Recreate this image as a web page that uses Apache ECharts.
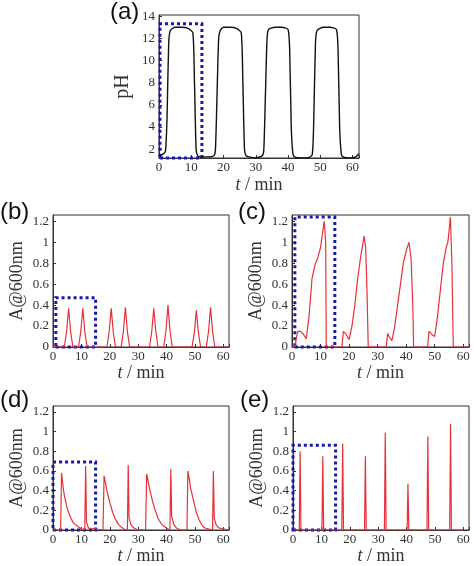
<!DOCTYPE html>
<html><head><meta charset="utf-8">
<script src="https://cdn.jsdelivr.net/npm/echarts@6/dist/echarts.min.js"></script>
<style>html,body{margin:0;padding:0;background:#fff}#c{width:474px;height:566px}</style>
</head><body><div id="c"></div>
<script>
const phT=[0,1,2,2.5,3,3.5,5,7,9,10.5,11,11.5,12,13,15,17,17.5,18,18.5,19,20,22,24,25.5,26,26.5,27,28,30,32,32.5,33,33.5,34,36,38,40,40.5,41,41.5,42,44,46,47.5,48,48.5,49,51,53,55,55.5,56,56.5,57,59,61,62];
const phV=[1.4,1.5,1.8,5,11.5,12.7,13,13,12.9,12.5,8,2,1.4,1.3,1.3,1.4,2,7,12,12.7,13,13,12.9,12.5,8,2,1.4,1.3,1.2,1.4,2,7,12,12.8,13,13,12.8,11,4,1.6,1.3,1.2,1.2,1.5,5,11.5,12.7,13,13,12.8,11,4,1.6,1.3,1.2,1.3,1.6];
const bT=[0,3,4,4.8,5.5,6.2,7,8,9,9.8,10.5,11.2,12,17,19,19.8,20.5,21.2,22,24,24.8,25.5,26.2,27,33,34,34.8,35.5,36.2,37,39,39.8,40.5,41.2,42,48,49,49.8,50.5,51.2,52,54,54.8,55.5,56.2,57,62];
const bV=[0,0,0,0.15,0.37,0.15,0,0,0,0.15,0.37,0.15,0,0,0,0.15,0.37,0.15,0,0,0.15,0.38,0.15,0,0,0,0.15,0.37,0.15,0,0,0.16,0.4,0.16,0,0,0,0.14,0.35,0.14,0,0,0.15,0.38,0.15,0,0];
const cT=[0,1,1.5,2,3,4,5,6,7,8,9,10,10.5,11.3,11.8,12,17.5,18,19,20,21,22,23,24,25.3,25.8,26.3,26.7,33,33.5,34,35,36,37,38,39,40,41,41.7,42.3,42.6,47.5,48,49,50,51,52,53,54,54.6,55.5,56,56.5,62];
const cV=[0,0,0.08,0.15,0.15,0.12,0.08,0.3,0.65,0.78,0.85,0.95,1.05,1.2,1.0,0,0,0.15,0.12,0.07,0.2,0.4,0.65,0.85,1.06,0.95,0.5,0,0,0.13,0.1,0.06,0.2,0.4,0.6,0.8,0.92,1.0,0.85,0.4,0,0,0.15,0.12,0.1,0.3,0.55,0.8,0.95,1.0,1.24,0.8,0,0];
const dT=[0,2.7,3,3.5,4,5,6,7,8,9,10,11.2,11.5,11.8,12.5,13,17.6,18,18.5,19,20,21,22,23,24,25,26.2,26.5,26.8,27.5,28.5,30,32.6,33,33.5,34,35,36,37,38,39,40,41.2,41.5,41.8,42.5,43.5,45,47.2,47.5,48,48.5,49.5,50.5,51.5,52.5,53.5,55,56.2,56.5,56.8,57.5,58.5,62];
const dV=[0,0,0.58,0.45,0.35,0.22,0.14,0.08,0.05,0.03,0.01,0,0.65,0.08,0.02,0,0,0.55,0.48,0.4,0.28,0.18,0.11,0.06,0.03,0.01,0,0.66,0.12,0.05,0.02,0,0,0.57,0.5,0.42,0.3,0.2,0.12,0.07,0.04,0.02,0,0.62,0.14,0.06,0.02,0,0,0.6,0.52,0.42,0.3,0.18,0.1,0.05,0.02,0.01,0,0.6,0.12,0.05,0.02,0];
const eT=[0,2.2,2.5,2.8,10.2,10.5,10.8,17.2,17.5,17.8,25.2,25.5,25.8,32.2,32.5,32.8,40.2,40.5,40.8,47.2,47.5,47.8,55.2,55.5,55.8,60];
const eV=[0,0,0.8,0,0,0.75,0,0,0.88,0,0,0.75,0,0,0.99,0,0,0.47,0,0,0.95,0,0,1.08,0,0];
const absTicks=[0,0.2,0.4,0.6,0.8,1,1.2];
const phTicks=[2,4,6,8,10,12,14];
const boxes=[[0.3,1.2,13.3,13.3],[1,0,15,0.47],[1,0,15,1.24],[0,0,15,0.69],[0,0,15,0.86]];

const zip=(t,v)=>t.map((x,i)=>[x,v[i]]);
const grids=[
 {left:159,top:15,width:200,height:143},
 {left:53,top:215,width:176,height:132},
 {left:292,top:215,width:177,height:132},
 {left:53,top:406,width:176,height:128},
 {left:293,top:406,width:176,height:128}];
const serif='"Liberation Serif","DejaVu Serif",serif';
const xAxes=grids.map((g,i)=>({gridIndex:i,type:'value',min:0,max:62,interval:10,
 axisLine:{onZero:false,lineStyle:{color:'#333'}},axisTick:{inside:true,length:3},splitLine:{show:false},
 axisLabel:{fontFamily:serif,fontSize:13,color:'#333',margin:3,formatter:v=>v>60?'':v},
 name:'{i|t} / min',nameLocation:'middle',nameGap:i==0?18:17,
 nameTextStyle:{fontFamily:serif,fontSize:18,color:'#333',rich:{i:{fontStyle:'italic',fontFamily:serif,fontSize:18,color:'#333'}}}}));
const yAxes=grids.map((g,i)=>i==0?
 {gridIndex:0,type:'value',min:1.2,max:14.1,axisLine:{lineStyle:{color:'#333'}},splitLine:{show:false},
  axisTick:{inside:true,length:3,customValues:phTicks},axisLabel:{customValues:phTicks,fontFamily:serif,fontSize:13,color:'#333',margin:4},
  name:'pH',nameLocation:'middle',nameGap:26,nameTextStyle:{fontFamily:serif,fontSize:20,color:'#333'}}:
 {gridIndex:i,type:'value',min:0,max:1.26,axisLine:{lineStyle:{color:'#333'}},splitLine:{show:false},
  axisTick:{inside:true,length:3,customValues:absTicks},axisLabel:{customValues:absTicks,fontFamily:serif,fontSize:13,color:'#333',margin:4},
  name:'A@600nm',nameLocation:'middle',nameGap:27,nameTextStyle:{fontFamily:serif,fontSize:18,color:'#333'}});
const datas=[zip(phT,phV),zip(bT,bV),zip(cT,cV),zip(dT,dV),zip(eT,eV)];
const series=datas.map((d,i)=>({type:'line',xAxisIndex:i,yAxisIndex:i,data:d,symbol:'none',smooth:i==0?0.2:false,
 lineStyle:{color:i==0?'#111':'#e8303a',width:i==0?1.4:1.2},
 markArea:{silent:true,itemStyle:{color:'rgba(0,0,0,0)',borderColor:'#1818b0',borderWidth:3,borderType:[3,3]},
  data:[[{coord:[boxes[i][0],boxes[i][1]]},{coord:[boxes[i][2],boxes[i][3]]}]]}}));
const labs=[['(a)',110,0],['(b)',0,200],['(c)',238,200],['(d)',0,388],['(e)',240,388]];
const chart=echarts.init(document.getElementById('c'));
chart.setOption({animation:false,grid:grids.map(g=>Object.assign({show:true,borderColor:'#333',borderWidth:1},g)),
 xAxis:xAxes,yAxis:yAxes,series,
 graphic:labs.map(l=>({type:'text',left:l[1],top:l[2],style:{text:l[0],font:'24px "Liberation Sans",Arial,sans-serif',fill:'#111'}}))});
</script></body></html>
